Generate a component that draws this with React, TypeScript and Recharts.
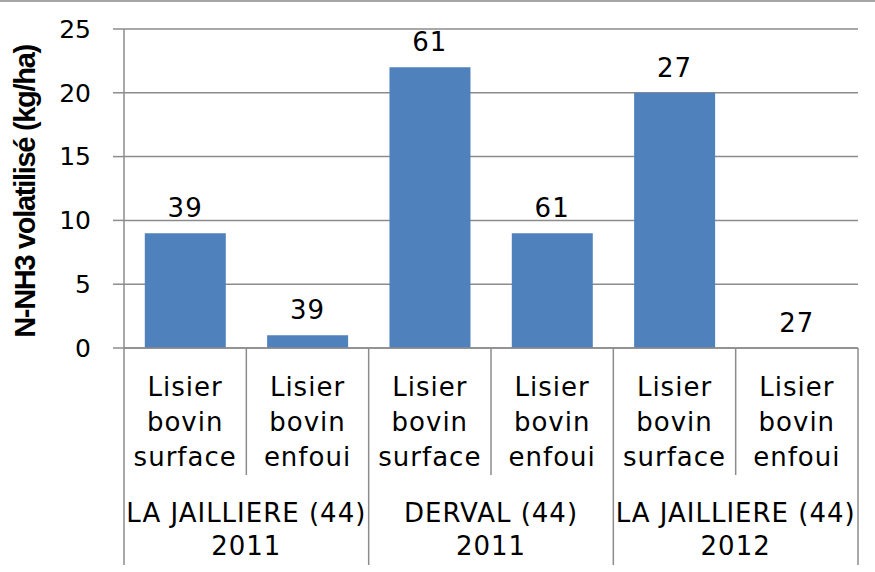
import { ComposedChart, Bar, Line, XAxis, YAxis, CartesianGrid, LabelList } from 'recharts';

const categories = [
  'Lisier bovin surface',
  'Lisier bovin enfoui',
  'Lisier bovin surface',
  'Lisier bovin enfoui',
  'Lisier bovin surface',
  'Lisier bovin enfoui',
];
const sites = [
  'LA JAILLIERE (44)',
  'LA JAILLIERE (44)',
  'DERVAL (44)',
  'DERVAL (44)',
  'LA JAILLIERE (44)',
  'LA JAILLIERE (44)',
];
const years = ['2011', '2011', '2011', '2011', '2012', '2012'];
const values = [9, 1, 22, 9, 20, 0];
const barLabels = ['39', '39', '61', '61', '27', '27'];
const yTicks = [0, 5, 10, 15, 20, 25];

const data = categories.map((name, i) => ({
  name,
  site: sites[i],
  year: years[i],
  value: values[i],
  label: barLabels[i],
}));

const FONT = "'DejaVu Sans', Verdana, sans-serif";
const GRID = '#8c8c8c';
const X_AXIS_H = 219;
const CAT_H = 127;

// category labels + two-level separators drawn under each band
const CategoryTick = (props: any) => {
  const { x, y, payload, index, width, visibleTicksCount } = props;
  const bw = width / visibleTicksCount;
  const lines = String(payload.value).split(' ');
  const left = x - bw / 2;
  const right = x + bw / 2;
  const isGroupStart = index % 2 === 0;
  const textProps = { textAnchor: 'middle' as const, fill: '#000', fontSize: 26, fontFamily: FONT, letterSpacing: 1 };
  return (
    <g>
      <line
        x1={left}
        x2={left}
        y1={y}
        y2={y + (isGroupStart ? X_AXIS_H - 2 : CAT_H)}
        stroke={GRID}
        strokeWidth={1.5}
      />
      {index === visibleTicksCount - 1 && (
        <line x1={right} x2={right} y1={y} y2={y + X_AXIS_H - 2} stroke={GRID} strokeWidth={1.5} />
      )}
      {lines.map((t, i) => (
        <text key={i} x={x} y={y + 48 + i * 35} {...textProps}>
          {t}
        </text>
      ))}
      {isGroupStart && (
        <g>
          <text x={right} y={y + 174} {...textProps}>
            {data[index].site}
          </text>
          <text x={right} y={y + 207} {...textProps}>
            {data[index].year}
          </text>
        </g>
      )}
    </g>
  );
};

const App = () => {
  return (
    <div style={{ position: 'absolute', left: 0, top: 0, width: 875, height: 572, background: '#fff' }}>
      <div style={{ position: 'absolute', left: 0, top: 0, width: 875, height: 2, background: '#a6a6a6' }} />
      <ComposedChart
        width={875}
        height={572}
        data={data}
        margin={{ top: 29, right: 17, bottom: 5, left: 0 }}
        barCategoryGap="17%"
      >
        <CartesianGrid vertical={false} stroke={GRID} strokeWidth={1.5} />
        <YAxis
          width={124}
          domain={[0, 25]}
          ticks={yTicks}
          interval={0}
          axisLine={{ stroke: GRID, strokeWidth: 1.5 }}
          tickLine={{ stroke: GRID, strokeWidth: 1.5 }}
          tickSize={11}
          tickMargin={22}
          tick={{ fill: '#000', fontSize: 25, fontFamily: FONT }}
          label={{
            value: 'N-NH3 volatilisé (kg/ha)',
            angle: -90,
            position: 'center',
            dx: -37,
            dy: 3,
            style: {
              fontFamily: "'Liberation Sans', Arial, sans-serif",
              fontWeight: 'bold',
              fontSize: 29,
              letterSpacing: -1.3,
              fill: '#000',
            },
          }}
        />
        <XAxis
          dataKey="name"
          height={X_AXIS_H}
          interval={0}
          axisLine={{ stroke: GRID, strokeWidth: 1.5 }}
          tickLine={false}
          tickSize={0}
          tickMargin={0}
          tick={<CategoryTick />}
        />
        <Bar dataKey="value" fill="#4f81bd" isAnimationActive={false} />
        {/* invisible series carrying the value labels, so the zero bar gets one too */}
        <Line
          dataKey="value"
          stroke="none"
          dot={false}
          activeDot={false}
          legendType="none"
          isAnimationActive={false}
        >
          <LabelList
            dataKey="label"
            position="top"
            offset={16}
            fill="#000"
            fontSize={26}
            fontFamily={FONT}
            letterSpacing={1}
          />
        </Line>
      </ComposedChart>
    </div>
  );
};

export default App;
